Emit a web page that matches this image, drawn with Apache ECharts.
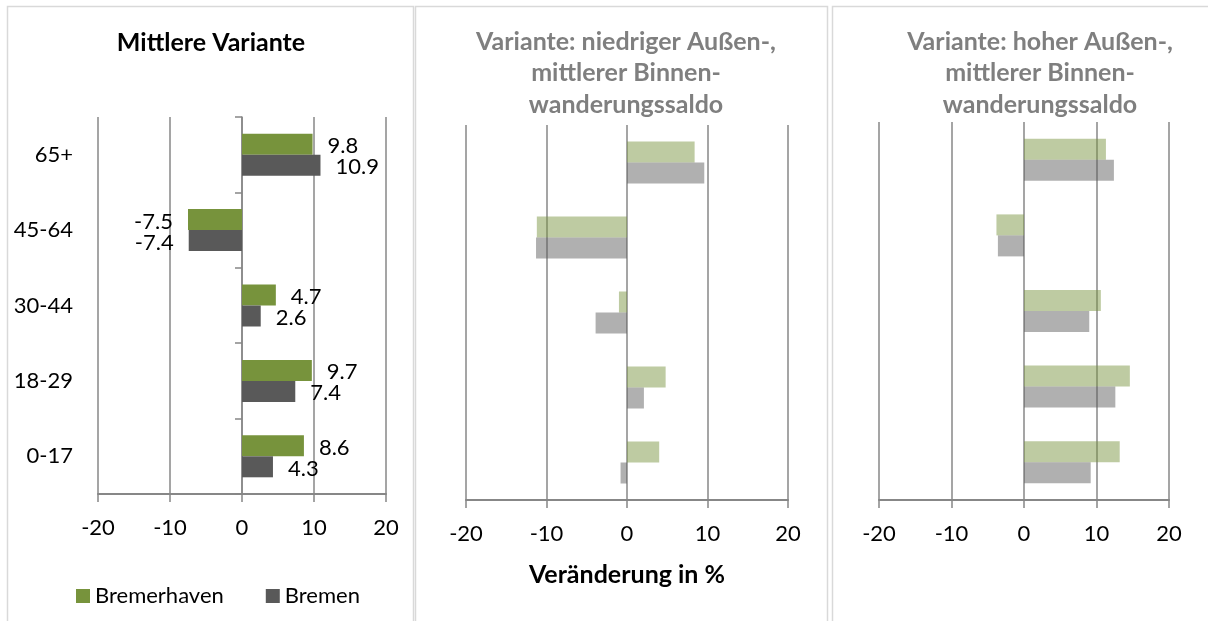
<!DOCTYPE html>
<html>
<head>
<meta charset="utf-8">
<script src="https://cdn.jsdelivr.net/npm/echarts@6/dist/echarts.min.js"></script>
<style>
  html, body { margin: 0; padding: 0; background: #fff; }
  #chart { width: 1208px; height: 621px; }
</style>
</head>
<body>
<div id="chart"></div>
<script>
var categories = ['0-17', '18-29', '30-44', '45-64', '65+'];
var xTicks = [-20, -10, 0, 10, 20];

// Mittlere Variante
var mittelBremerhaven = [8.6, 9.7, 4.7, -7.5, 9.8];
var mittelBremen = [4.3, 7.4, 2.6, -7.4, 10.9];
// niedriger Außen-, mittlerer Binnenwanderungssaldo
var niedrigBremerhaven = [4.0, 4.8, -1.0, -11.2, 8.4];
var niedrigBremen = [-0.8, 2.1, -3.9, -11.3, 9.6];
// hoher Außen-, mittlerer Binnenwanderungssaldo
var hochBremerhaven = [13.2, 14.6, 10.6, -3.8, 11.3];
var hochBremen = [9.2, 12.6, 9.0, -3.6, 12.4];

var FONT = 'Lato';
var GREEN = '#77933c';
var GREY = '#595959';
var LINE = '#878787';

var chart = echarts.init(document.getElementById('chart'));

function xAxis(i, withName) {
  var ax = {
    type: 'value',
    gridIndex: i,
    min: xTicks[0],
    max: xTicks[xTicks.length - 1],
    interval: xTicks[1] - xTicks[0],
    axisLine: { show: true, lineStyle: { color: LINE, width: 2 } },
    axisTick: { show: true, length: 8, lineStyle: { color: LINE, width: 1.5 } },
    axisLabel: { fontSize: 22, color: '#000', fontFamily: FONT, margin: 23 },
    splitLine: { show: true, lineStyle: { color: LINE, width: 1.5 } }
  };
  if (withName) {
    ax.name = 'Veränderung in %';
    ax.nameLocation = 'middle';
    ax.nameGap = 62;
    ax.nameTextStyle = { fontSize: 25, fontWeight: 'bold', color: '#000', fontFamily: FONT };
  }
  return ax;
}

function yAxis(i, showLabels) {
  return {
    type: 'category',
    gridIndex: i,
    data: categories,
    axisLine: { show: false, onZero: false },
    axisTick: { show: false },
    axisLabel: { show: showLabels, fontSize: 22, color: '#000', fontFamily: FONT, margin: 25 },
    splitLine: { show: false }
  };
}

// labelled bars: label sits outside the bar end
function items(vals) {
  return vals.map(function (v) {
    return { value: v, label: { position: v < 0 ? 'left' : 'right' } };
  });
}

function barSeries(name, vals, color, i, labelled) {
  return {
    name: name,
    type: 'bar',
    xAxisIndex: i,
    yAxisIndex: i,
    barWidth: 21,
    barGap: '0%',
    data: labelled ? items(vals) : vals,
    itemStyle: { color: color, opacity: labelled ? 1 : 0.48 },
    label: {
      show: labelled,
      distance: 15,
      offset: [0, 2],
      fontSize: 22,
      color: '#000',
      fontFamily: FONT
    },
    emphasis: { disabled: true },
    silent: true
  };
}

var titleStyle = { fontSize: 25, fontWeight: 'bold', fontFamily: FONT, lineHeight: 31.5 };

chart.setOption({
  animation: false,
  title: [
    { text: 'Mittlere Variante', left: 211, top: 27, padding: 0, textAlign: 'center',
      textStyle: Object.assign({}, titleStyle, { color: '#000' }) },
    { text: 'Variante: niedriger Außen-,\nmittlerer Binnen-\nwanderungssaldo', left: 626, top: 26, padding: 0, textAlign: 'center',
      textStyle: Object.assign({}, titleStyle, { color: '#7f7f7f' }) },
    { text: 'Variante: hoher Außen-,\nmittlerer Binnen-\nwanderungssaldo', left: 1040, top: 26, padding: 0, textAlign: 'center',
      textStyle: Object.assign({}, titleStyle, { color: '#7f7f7f' }) }
  ],
  legend: {
    data: ['Bremerhaven', 'Bremen'],
    left: 71,
    top: 580,
    icon: 'rect',
    itemWidth: 14,
    itemHeight: 14,
    itemGap: 42,
    textStyle: { fontSize: 22, color: '#000', fontFamily: FONT }
  },
  grid: [
    { left: 98, top: 117, width: 288, height: 377 },
    { left: 466, top: 125, width: 322, height: 375 },
    { left: 879, top: 122, width: 290, height: 378 }
  ],
  xAxis: [xAxis(0, false), xAxis(1, true), xAxis(2, false)],
  yAxis: [
    yAxis(0, true),
    yAxis(1, false),
    yAxis(2, false),
    // zero line with category ticks in the first panel, shifted to x = 0
    {
      type: 'category',
      gridIndex: 0,
      data: categories,
      position: 'left',
      offset: -144,
      axisLine: { show: true, onZero: false, lineStyle: { color: LINE, width: 1.5 } },
      axisTick: { show: true, length: 7, lineStyle: { color: LINE, width: 1.5 } },
      axisLabel: { show: false },
      splitLine: { show: false }
    }
  ],
  series: [
    barSeries('Bremerhaven', mittelBremerhaven, GREEN, 0, true),
    barSeries('Bremen', mittelBremen, GREY, 0, true),
    barSeries('Bremerhaven niedrig', niedrigBremerhaven, GREEN, 1, false),
    barSeries('Bremen niedrig', niedrigBremen, GREY, 1, false),
    barSeries('Bremerhaven hoch', hochBremerhaven, GREEN, 2, false),
    barSeries('Bremen hoch', hochBremen, GREY, 2, false)
  ],
  graphic: [
    { type: 'rect', shape: { x: 7.5, y: 6.5, width: 406, height: 700 },
      style: { fill: 'none', stroke: '#d9d9d9', lineWidth: 1.5 }, silent: true },
    { type: 'rect', shape: { x: 415.5, y: 6.5, width: 412, height: 700 },
      style: { fill: 'none', stroke: '#d9d9d9', lineWidth: 1.5 }, silent: true },
    { type: 'rect', shape: { x: 832.5, y: 6.5, width: 400, height: 700 },
      style: { fill: 'none', stroke: '#d9d9d9', lineWidth: 1.5 }, silent: true }
  ]
});
</script>
</body>
</html>
